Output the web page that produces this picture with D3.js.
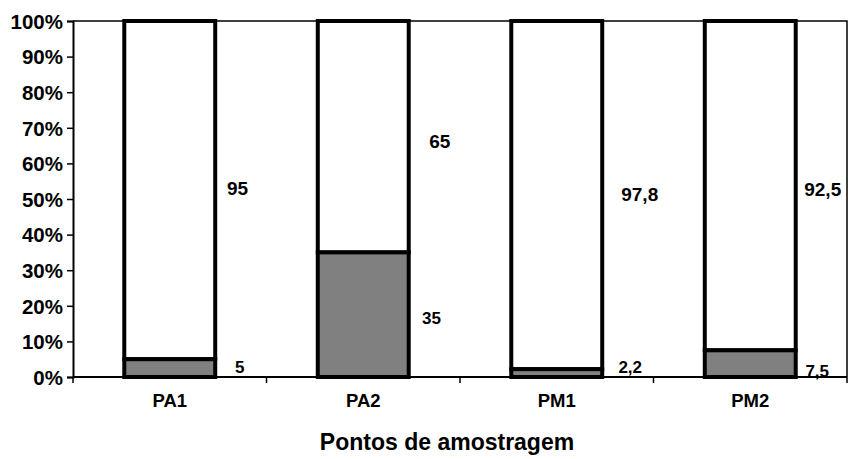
<!DOCTYPE html>
<html><head><meta charset="utf-8">
<script src="https://cdn.jsdelivr.net/npm/d3@7"></script>
<style>body{margin:0;background:#fff}text{font-family:"Liberation Sans",Arial,sans-serif;font-weight:bold;fill:#000}</style>
</head><body><svg id="c" width="848" height="459"></svg>
<script>
const categories = ["PA1","PA2","PM1","PM2"];
const grayValues = [5,35,2.2,7.5];
const whiteValues = [95,65,97.8,92.5];
const grayLabels = ["5","35","2,2","7,5"];
const whiteLabels = ["95","65","97,8","92,5"];
const yTicks = [0,10,20,30,40,50,60,70,80,90,100];
const xTitle = "Pontos de amostragem";

// layout (label nudges, px)
const grayNudge = [[22.5,-1],[20.7,2.8],[26,-6],[19.5,7.4]];
const whiteNudge = [[20.3,-1.7],[29,4.8],[35.5,-0.6],[25,3.4]];

const svg = d3.select("#c");
const L=73,R=847,T=21,B=377;
const x = d3.scaleBand().domain(categories).range([L,R]).paddingInner(0.53).paddingOuter(0.265);
const y = d3.scaleLinear().domain([0,100]).range([B,T]);

// plot border
svg.append("path").attr("d",`M${L},${T}H${R}V${B}`).attr("fill","none").attr("stroke","#000").attr("stroke-width",1.5);

const data = categories.map((c,i)=>({c,i,g:grayValues[i],w:whiteValues[i],gl:grayLabels[i],wl:whiteLabels[i]}));
data.forEach(d=>{
  svg.append("rect").attr("x",x(d.c)).attr("width",x.bandwidth())
    .attr("y",y(d.g+d.w)).attr("height",y(d.g)-y(d.g+d.w))
    .attr("fill","#fff").attr("stroke","#000").attr("stroke-width",4);
  svg.append("rect").attr("x",x(d.c)).attr("width",x.bandwidth())
    .attr("y",y(d.g)).attr("height",y(0)-y(d.g))
    .attr("fill","#808080").attr("stroke","#000").attr("stroke-width",4);
});
data.forEach(d=>{
  const re = x(d.c)+x.bandwidth()+2;
  svg.append("text").attr("x",re+grayNudge[d.i][0]).attr("y",y(d.g/2)+grayNudge[d.i][1]).attr("dy","0.36em")
    .attr("text-anchor","middle").attr("font-size",17).text(d.gl);
  svg.append("text").attr("x",re+whiteNudge[d.i][0]).attr("y",y(d.g+d.w/2)+whiteNudge[d.i][1]).attr("dy","0.36em")
    .attr("text-anchor","middle").attr("font-size",19).text(d.wl);
});

// y axis
const ya = svg.append("g").attr("transform",`translate(${L},0)`)
  .call(d3.axisLeft(y).tickValues(yTicks).tickFormat(d=>d+"%").tickSize(6).tickPadding(4));
ya.select(".domain").attr("stroke-width",2);
ya.selectAll(".tick line").attr("stroke-width",1.5);
ya.selectAll("text").attr("font-size",20.5).attr("font-family","Liberation Sans, Arial, sans-serif").attr("font-weight","bold").attr("dy","0.36em");

// x axis
const xa = svg.append("g").attr("transform",`translate(0,${B})`);
xa.append("line").attr("x1",L).attr("x2",R).attr("stroke","#000").attr("stroke-width",2);
const step = (R-L)/categories.length;
d3.range(categories.length+1).forEach(i=>{
  xa.append("line").attr("x1",L+i*step).attr("x2",L+i*step).attr("y1",0).attr("y2",6).attr("stroke","#000").attr("stroke-width",1.5);
});
categories.forEach(c=>{
  xa.append("text").attr("x",x(c)+x.bandwidth()/2).attr("y",30).attr("text-anchor","middle").attr("font-size",18.5).text(c);
});
svg.append("text").attr("x",447).attr("y",450).attr("text-anchor","middle").attr("font-size",23).text(xTitle);
</script></body></html>
